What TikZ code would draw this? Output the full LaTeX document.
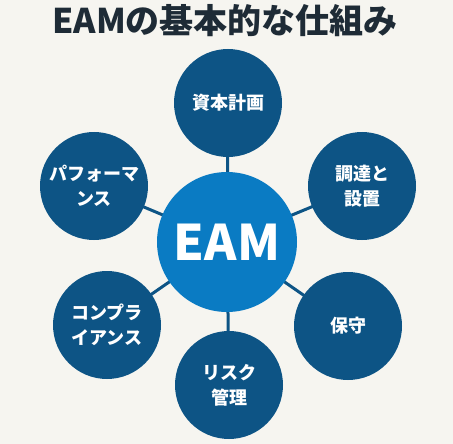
\documentclass[tikz,border=0pt]{standalone}
\usepackage{fontspec}
\setmainfont{Noto Sans CJK JP}
\usetikzlibrary{positioning,backgrounds}
\definecolor{paper}{HTML}{F6F5F0}
\definecolor{darkblue}{HTML}{0D5485}
\definecolor{eamblue}{HTML}{0A7BC3}
\definecolor{titleink}{HTML}{1E2B36}

\begin{document}
\begin{tikzpicture}[x=1pt,y=-1pt]
	\tikzset{hub/.style={circle, fill=eamblue, minimum size=140pt, inner sep=0pt, text=white, font=\bfseries\fontsize{49}{49}\selectfont},
		spoke/.style={circle, fill=darkblue, minimum size=108pt, inner sep=0pt, text=white, align=center, font=\bfseries\fontsize{18}{25}\selectfont},
		link/.style={draw=darkblue, line width=3pt},
	}
	\useasboundingbox (0,0) rectangle (453,444);
	\node [text=titleink, font=\bfseries\fontsize{34}{34}\selectfont] (title) at (225,21) {EAMの基本的な仕組み};
	\node [hub] (eam) at (227,242) {EAM};
	\node [spoke] (plan) at (228,103) {資本計画};
	\node [spoke] (buy) at (362,186) {調達と\\設置};
	\node [spoke] (care) at (348,326) {保守};
	\node [spoke] (risk) at (229,385) {リスク\\管理};
	\node [spoke] (rules) at (107,325) {コンプラ\\イアンス};
	\node [spoke] (perf) at (94,186) {パフォーマ\\ンス};
	\begin{scope}[on background layer]
		\fill [paper] (0,0) rectangle (453,444);
		\foreach \n in {plan,buy,care,risk,rules,perf}
			\draw [link] (eam.center) -- (\n.center);
	\end{scope}
\end{tikzpicture}
\end{document}
